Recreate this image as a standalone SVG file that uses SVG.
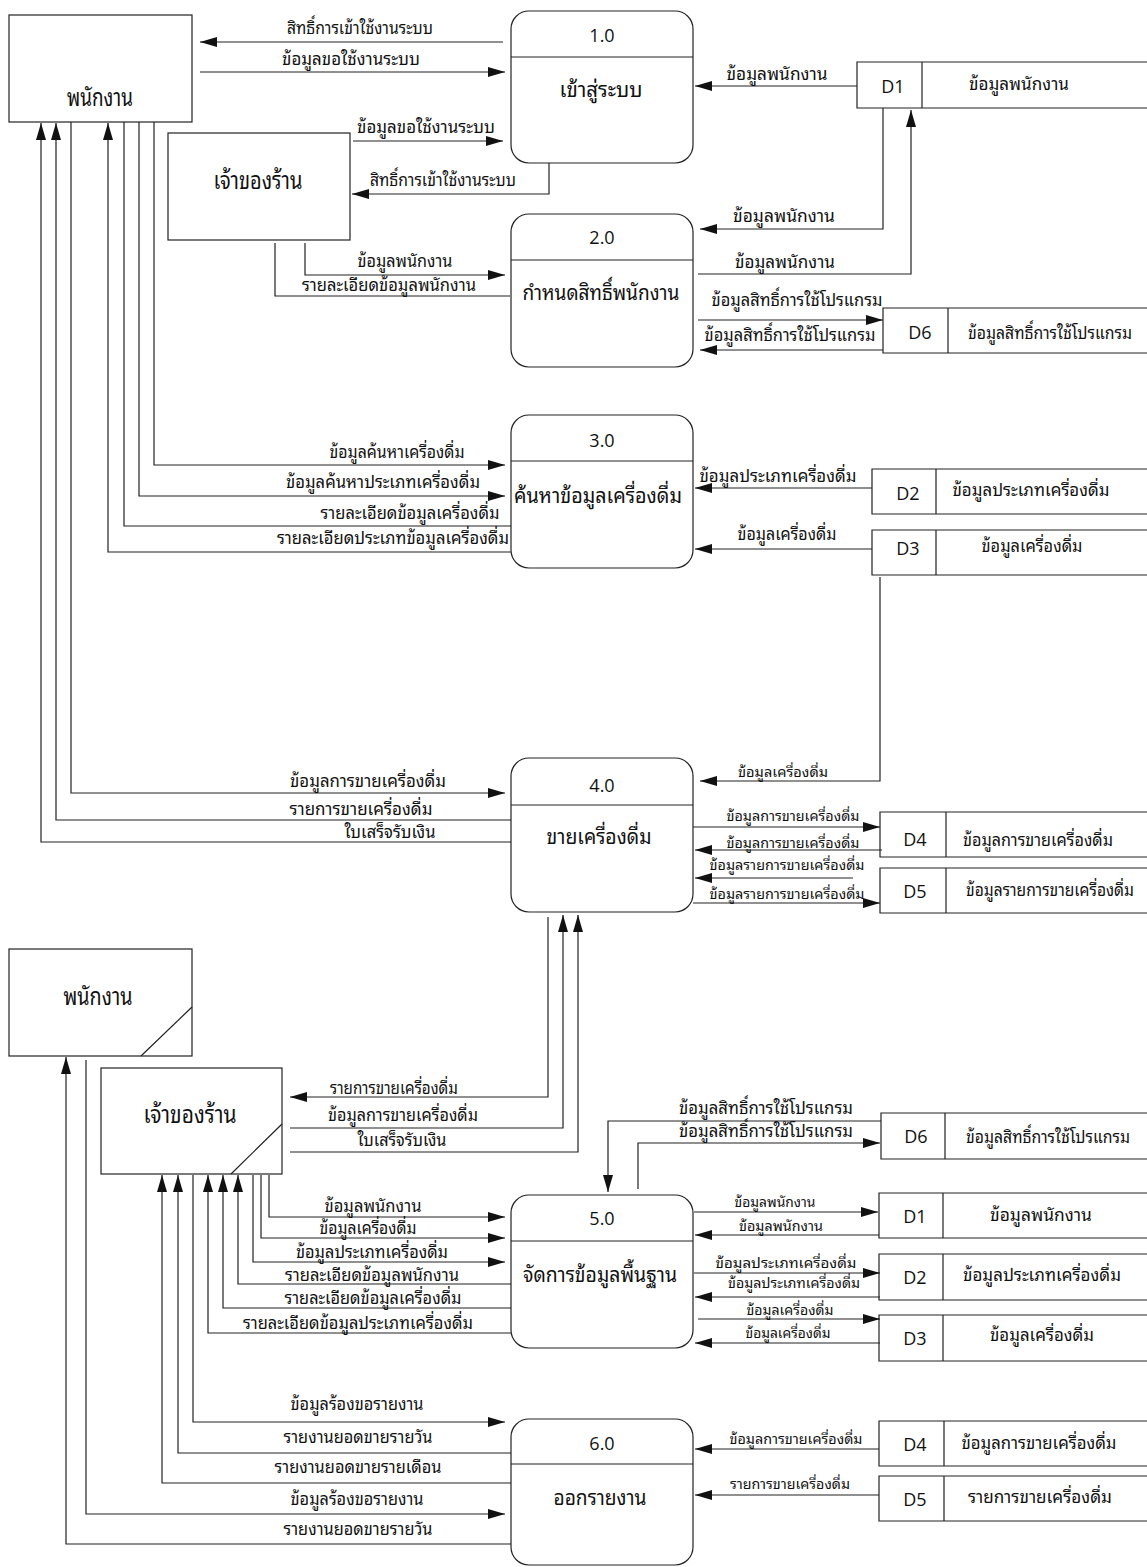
<svg xmlns="http://www.w3.org/2000/svg" width="1147" height="1567" viewBox="0 0 1147 1567">
<defs>
<marker id="ah" markerWidth="17" markerHeight="10" refX="17" refY="5" orient="auto" markerUnits="userSpaceOnUse"><path d="M0,0 L17,5 L0,10 z" fill="#111"/></marker>
<style>
.bx{fill:#fff;stroke:#222;stroke-width:1.2}
.pr{fill:none;stroke:#222;stroke-width:1.2}
.ln{fill:none;stroke:#222;stroke-width:1.2}
.a{marker-end:url(#ah)}
text{font-family:"Noto Sans Thai Looped","Noto Serif Thai","Noto Sans Thai","Loma","Garuda","Noto Sans","DejaVu Sans",sans-serif;fill:#111;text-anchor:middle}
.t{font-size:17px}
.s{font-size:14px}
.n{font-size:25px}
.p{font-size:21px}
.c{font-size:18px;font-family:"Open Sans","Noto Sans","Liberation Sans",sans-serif}
</style>
</defs>
<rect width="1147" height="1567" fill="#fff"/>

<!-- External entities -->
<g id="emp1"><rect class="bx" x="9" y="15" width="183" height="107"/><text class="n" x="100" y="106" textLength="66" lengthAdjust="spacingAndGlyphs">พนักงาน</text></g>
<g id="owner1"><rect class="bx" x="168" y="133" width="182" height="107"/><text class="n" x="258" y="189" textLength="89" lengthAdjust="spacingAndGlyphs">เจ้าของร้าน</text></g>
<g id="emp2"><rect class="bx" x="9" y="949" width="183" height="107"/><line class="ln" x1="141" y1="1056" x2="192" y2="1007"/><text class="n" x="98" y="1005" textLength="69" lengthAdjust="spacingAndGlyphs">พนักงาน</text></g>
<g id="owner2"><rect class="bx" x="101" y="1068" width="181" height="106"/><line class="ln" x1="231" y1="1174" x2="282" y2="1124"/><text class="n" x="190" y="1123" textLength="93" lengthAdjust="spacingAndGlyphs">เจ้าของร้าน</text></g>

<!-- Processes -->
<g id="p1"><rect class="pr" x="511" y="11" width="182" height="152" rx="18"/><line class="ln" x1="511" y1="57" x2="693" y2="57"/><text class="c" x="602" y="42">1.0</text><text class="p" x="601" y="97" textLength="83" lengthAdjust="spacingAndGlyphs">เข้าสู่ระบบ</text></g>
<g id="p2"><rect class="pr" x="511" y="214" width="182" height="153" rx="18"/><line class="ln" x1="511" y1="260" x2="693" y2="260"/><text class="c" x="602" y="244">2.0</text><text class="p" x="601" y="300" textLength="157" lengthAdjust="spacingAndGlyphs">กำหนดสิทธิ์พนักงาน</text></g>
<g id="p3"><rect class="pr" x="511" y="415" width="182" height="153" rx="18"/><line class="ln" x1="511" y1="461" x2="693" y2="461"/><text class="c" x="602" y="447">3.0</text><text class="p" x="598" y="503" textLength="168" lengthAdjust="spacingAndGlyphs">ค้นหาข้อมูลเครื่องดื่ม</text></g>
<g id="p4"><rect class="pr" x="511" y="758" width="182" height="154" rx="18"/><line class="ln" x1="511" y1="805" x2="693" y2="805"/><text class="c" x="602" y="792">4.0</text><text class="p" x="599" y="844" textLength="105" lengthAdjust="spacingAndGlyphs">ขายเครื่องดื่ม</text></g>
<g id="p5"><rect class="pr" x="511" y="1195" width="182" height="153" rx="18"/><line class="ln" x1="511" y1="1241" x2="693" y2="1241"/><text class="c" x="602" y="1225">5.0</text><text class="p" x="600" y="1282" textLength="154" lengthAdjust="spacingAndGlyphs">จัดการข้อมูลพื้นฐาน</text></g>
<g id="p6"><rect class="pr" x="511" y="1419" width="182" height="146" rx="18"/><line class="ln" x1="511" y1="1464" x2="693" y2="1464"/><text class="c" x="602" y="1450">6.0</text><text class="p" x="600" y="1505" textLength="93" lengthAdjust="spacingAndGlyphs">ออกรายงาน</text></g>

<!-- Data stores -->
<g id="d1a"><path class="ln" d="M1147,62 H857 V108 H1147 M922,62 V108"/><text class="c" x="893" y="93">D1</text><text class="t" x="1019" y="90" textLength="100" lengthAdjust="spacingAndGlyphs">ข้อมูลพนักงาน</text></g>
<g id="d6a"><path class="ln" d="M1147,308 H883 V353 H1147 M948,308 V353"/><text class="c" x="920" y="339">D6</text><text class="t" x="1050" y="339" textLength="164" lengthAdjust="spacingAndGlyphs">ข้อมูลสิทธิ์การใช้โปรแกรม</text></g>
<g id="d2a"><path class="ln" d="M1147,469 H872 V514 H1147 M936,469 V514"/><text class="c" x="908" y="500">D2</text><text class="t" x="1031" y="496" textLength="157" lengthAdjust="spacingAndGlyphs">ข้อมูลประเภทเครื่องดื่ม</text></g>
<g id="d3a"><path class="ln" d="M1147,530 H872 V575 H1147 M936,530 V575"/><text class="c" x="908" y="555">D3</text><text class="t" x="1032" y="552" textLength="101" lengthAdjust="spacingAndGlyphs">ข้อมูลเครื่องดื่ม</text></g>
<g id="d4a"><path class="ln" d="M1147,812 H880 V857 H1147 M946,812 V857"/><text class="c" x="915" y="846">D4</text><text class="t" x="1038" y="846" textLength="150" lengthAdjust="spacingAndGlyphs">ข้อมูลการขายเครื่องดื่ม</text></g>
<g id="d5a"><path class="ln" d="M1147,868 H880 V913 H1147 M946,868 V913"/><text class="c" x="915" y="898">D5</text><text class="t" x="1050" y="896" textLength="168" lengthAdjust="spacingAndGlyphs">ข้อมูลรายการขายเครื่องดื่ม</text></g>
<g id="d6b"><path class="ln" d="M1147,1113 H881 V1159 H1147 M945,1113 V1159"/><text class="c" x="916" y="1143">D6</text><text class="t" x="1048" y="1143" textLength="164" lengthAdjust="spacingAndGlyphs">ข้อมูลสิทธิ์การใช้โปรแกรม</text></g>
<g id="d1b"><path class="ln" d="M1147,1193 H879 V1238 H1147 M943,1193 V1238"/><text class="c" x="915" y="1223">D1</text><text class="t" x="1041" y="1221" textLength="102" lengthAdjust="spacingAndGlyphs">ข้อมูลพนักงาน</text></g>
<g id="d2b"><path class="ln" d="M1147,1254 H879 V1300 H1147 M943,1254 V1300"/><text class="c" x="915" y="1284">D2</text><text class="t" x="1042" y="1281" textLength="158" lengthAdjust="spacingAndGlyphs">ข้อมูลประเภทเครื่องดื่ม</text></g>
<g id="d3b"><path class="ln" d="M1147,1315 H879 V1361 H1147 M943,1315 V1361"/><text class="c" x="915" y="1345">D3</text><text class="t" x="1042" y="1341" textLength="104" lengthAdjust="spacingAndGlyphs">ข้อมูลเครื่องดื่ม</text></g>
<g id="d4b"><path class="ln" d="M1147,1421 H879 V1466 H1147 M944,1421 V1466"/><text class="c" x="915" y="1451">D4</text><text class="t" x="1039" y="1449" textLength="155" lengthAdjust="spacingAndGlyphs">ข้อมูลการขายเครื่องดื่ม</text></g>
<g id="d5b"><path class="ln" d="M1147,1476 H879 V1521 H1147 M944,1476 V1521"/><text class="c" x="915" y="1506">D5</text><text class="t" x="1040" y="1503" textLength="144" lengthAdjust="spacingAndGlyphs">รายการขายเครื่องดื่ม</text></g>

<!-- Connectors -->
<g id="connectors">
<path class="ln a" d="M503,42 H200"/><text class="t" x="360" y="34" textLength="146" lengthAdjust="spacingAndGlyphs">สิทธิ์การเข้าใช้งานระบบ</text>
<path class="ln a" d="M200,72 H505"/><text class="t" x="351" y="65" textLength="138" lengthAdjust="spacingAndGlyphs">ข้อมูลขอใช้งานระบบ</text>
<path class="ln a" d="M353,141 H503"/><text class="t" x="426" y="133" textLength="138" lengthAdjust="spacingAndGlyphs">ข้อมูลขอใช้งานระบบ</text>
<path class="ln a" d="M549,163 V194 H352"/><text class="t" x="443" y="186" textLength="146" lengthAdjust="spacingAndGlyphs">สิทธิ์การเข้าใช้งานระบบ</text>
<path class="ln a" d="M305,243 V275 H505"/><text class="t" x="405" y="267" textLength="95" lengthAdjust="spacingAndGlyphs">ข้อมูลพนักงาน</text>
<path class="ln" d="M510,296 H275 V243"/><text class="t" x="389" y="291" textLength="174" lengthAdjust="spacingAndGlyphs">รายละเอียดข้อมูลพนักงาน</text>
<path class="ln a" d="M857,86 H695"/><text class="t" x="777" y="80" textLength="101" lengthAdjust="spacingAndGlyphs">ข้อมูลพนักงาน</text>
<path class="ln a" d="M883,108 V229 H700"/><text class="t" x="784" y="222" textLength="102" lengthAdjust="spacingAndGlyphs">ข้อมูลพนักงาน</text>
<path class="ln a" d="M698,274 H911 V110"/><text class="t" x="785" y="268" textLength="100" lengthAdjust="spacingAndGlyphs">ข้อมูลพนักงาน</text>
<path class="ln a" d="M698,320 H883"/><text class="t" x="797" y="306" textLength="171" lengthAdjust="spacingAndGlyphs">ข้อมูลสิทธิ์การใช้โปรแกรม</text>
<path class="ln a" d="M883,350 H700"/><text class="t" x="790" y="341" textLength="171" lengthAdjust="spacingAndGlyphs">ข้อมูลสิทธิ์การใช้โปรแกรม</text>

<path class="ln a" d="M154,122 V465 H505"/><text class="t" x="397" y="458" textLength="135" lengthAdjust="spacingAndGlyphs">ข้อมูลค้นหาเครื่องดื่ม</text>
<path class="ln a" d="M139,122 V496 H505"/><text class="t" x="383" y="488" textLength="194" lengthAdjust="spacingAndGlyphs">ข้อมูลค้นหาประเภทเครื่องดื่ม</text>
<path class="ln" d="M511,526 H124 V122"/><text class="t" x="410" y="519" textLength="179" lengthAdjust="spacingAndGlyphs">รายละเอียดข้อมูลเครื่องดื่ม</text>
<path class="ln a" d="M511,552 H108 V123"/><text class="t" x="393" y="544" textLength="232" lengthAdjust="spacingAndGlyphs">รายละเอียดประเภทข้อมูลเครื่องดื่ม</text>
<path class="ln a" d="M872,488 H695"/><text class="t" x="778" y="482" textLength="157" lengthAdjust="spacingAndGlyphs">ข้อมูลประเภทเครื่องดื่ม</text>
<path class="ln a" d="M872,549 H695"/><text class="t" x="787" y="540" textLength="99" lengthAdjust="spacingAndGlyphs">ข้อมูลเครื่องดื่ม</text>

<path class="ln a" d="M880,577 V781 H700"/><text class="s" x="783" y="777" textLength="90" lengthAdjust="spacingAndGlyphs">ข้อมูลเครื่องดื่ม</text>
<path class="ln a" d="M71,122 V793 H505"/><text class="t" x="368" y="787" textLength="156" lengthAdjust="spacingAndGlyphs">ข้อมูลการขายเครื่องดื่ม</text>
<path class="ln a" d="M511,820 H56 V123"/><text class="t" x="361" y="815" textLength="143" lengthAdjust="spacingAndGlyphs">รายการขายเครื่องดื่ม</text>
<path class="ln a" d="M511,842 H41 V123"/><text class="t" x="390" y="838" textLength="91" lengthAdjust="spacingAndGlyphs">ใบเสร็จรับเงิน</text>
<path class="ln a" d="M693,827 H880"/><text class="s" x="793" y="821" textLength="133" lengthAdjust="spacingAndGlyphs">ข้อมูลการขายเครื่องดื่ม</text>
<path class="ln a" d="M882,850 H695"/><text class="s" x="793" y="848" textLength="133" lengthAdjust="spacingAndGlyphs">ข้อมูลการขายเครื่องดื่ม</text>
<path class="ln a" d="M853,878 H695"/><text class="s" x="787" y="870" textLength="155" lengthAdjust="spacingAndGlyphs">ข้อมูลรายการขายเครื่องดื่ม</text>
<path class="ln a" d="M693,903 H880"/><text class="s" x="787" y="899" textLength="155" lengthAdjust="spacingAndGlyphs">ข้อมูลรายการขายเครื่องดื่ม</text>

<path class="ln a" d="M548,917 V1097 H290"/><text class="t" x="394" y="1094" textLength="128" lengthAdjust="spacingAndGlyphs">รายการขายเครื่องดื่ม</text>
<path class="ln a" d="M290,1128 H563 V915"/><text class="t" x="403" y="1121" textLength="150" lengthAdjust="spacingAndGlyphs">ข้อมูลการขายเครื่องดื่ม</text>
<path class="ln a" d="M290,1152 H578 V915"/><text class="t" x="402" y="1146" textLength="89" lengthAdjust="spacingAndGlyphs">ใบเสร็จรับเงิน</text>

<path class="ln a" d="M881,1121 H608 V1192"/><text class="t" x="766" y="1114" textLength="174" lengthAdjust="spacingAndGlyphs">ข้อมูลสิทธิ์การใช้โปรแกรม</text>
<path class="ln a" d="M638,1189 V1143 H880"/><text class="t" x="766" y="1137" textLength="174" lengthAdjust="spacingAndGlyphs">ข้อมูลสิทธิ์การใช้โปรแกรม</text>

<path class="ln a" d="M269,1175 V1217 H505"/><text class="t" x="373" y="1212" textLength="97" lengthAdjust="spacingAndGlyphs">ข้อมูลพนักงาน</text>
<path class="ln a" d="M261,1175 V1238 H505"/><text class="t" x="368" y="1234" textLength="97" lengthAdjust="spacingAndGlyphs">ข้อมูลเครื่องดื่ม</text>
<path class="ln a" d="M253,1175 V1262 H505"/><text class="t" x="372" y="1258" textLength="152" lengthAdjust="spacingAndGlyphs">ข้อมูลประเภทเครื่องดื่ม</text>
<path class="ln a" d="M511,1284 H238 V1175"/><text class="t" x="372" y="1281" textLength="174" lengthAdjust="spacingAndGlyphs">รายละเอียดข้อมูลพนักงาน</text>
<path class="ln a" d="M511,1308 H223 V1175"/><text class="t" x="373" y="1304" textLength="177" lengthAdjust="spacingAndGlyphs">รายละเอียดข้อมูลเครื่องดื่ม</text>
<path class="ln a" d="M511,1333 H208 V1175"/><text class="t" x="358" y="1329" textLength="230" lengthAdjust="spacingAndGlyphs">รายละเอียดข้อมูลประเภทเครื่องดื่ม</text>

<path class="ln a" d="M694,1212 H878"/><text class="s" x="775" y="1207" textLength="81" lengthAdjust="spacingAndGlyphs">ข้อมูลพนักงาน</text>
<path class="ln a" d="M879,1235 H695"/><text class="s" x="781" y="1231" textLength="84" lengthAdjust="spacingAndGlyphs">ข้อมูลพนักงาน</text>
<path class="ln a" d="M694,1273 H880"/><text class="s" x="786" y="1268" textLength="141" lengthAdjust="spacingAndGlyphs">ข้อมูลประเภทเครื่องดื่ม</text>
<path class="ln a" d="M880,1297 H695"/><text class="s" x="794" y="1288" textLength="132" lengthAdjust="spacingAndGlyphs">ข้อมูลประเภทเครื่องดื่ม</text>
<path class="ln a" d="M698,1319 H880"/><text class="s" x="790" y="1315" textLength="87" lengthAdjust="spacingAndGlyphs">ข้อมูลเครื่องดื่ม</text>
<path class="ln a" d="M880,1343 H695"/><text class="s" x="788" y="1338" textLength="85" lengthAdjust="spacingAndGlyphs">ข้อมูลเครื่องดื่ม</text>

<path class="ln a" d="M193,1175 V1422 H505"/><text class="t" x="357" y="1410" textLength="133" lengthAdjust="spacingAndGlyphs">ข้อมูลร้องขอรายงาน</text>
<path class="ln a" d="M511,1453 H178 V1175"/><text class="t" x="358" y="1443" textLength="149" lengthAdjust="spacingAndGlyphs">รายงานยอดขายรายวัน</text>
<path class="ln a" d="M511,1483 H162 V1175"/><text class="t" x="358" y="1473" textLength="167" lengthAdjust="spacingAndGlyphs">รายงานยอดขายรายเดือน</text>
<path class="ln a" d="M86,1060 V1514 H505"/><text class="t" x="357" y="1505" textLength="133" lengthAdjust="spacingAndGlyphs">ข้อมูลร้องขอรายงาน</text>
<path class="ln a" d="M511,1544 H66 V1057"/><text class="t" x="358" y="1535" textLength="149" lengthAdjust="spacingAndGlyphs">รายงานยอดขายรายวัน</text>
<path class="ln a" d="M879,1449 H695"/><text class="s" x="796" y="1444" textLength="133" lengthAdjust="spacingAndGlyphs">ข้อมูลการขายเครื่องดื่ม</text>
<path class="ln a" d="M879,1495 H695"/><text class="s" x="790" y="1489" textLength="120" lengthAdjust="spacingAndGlyphs">รายการขายเครื่องดื่ม</text>
</g>
</svg>
